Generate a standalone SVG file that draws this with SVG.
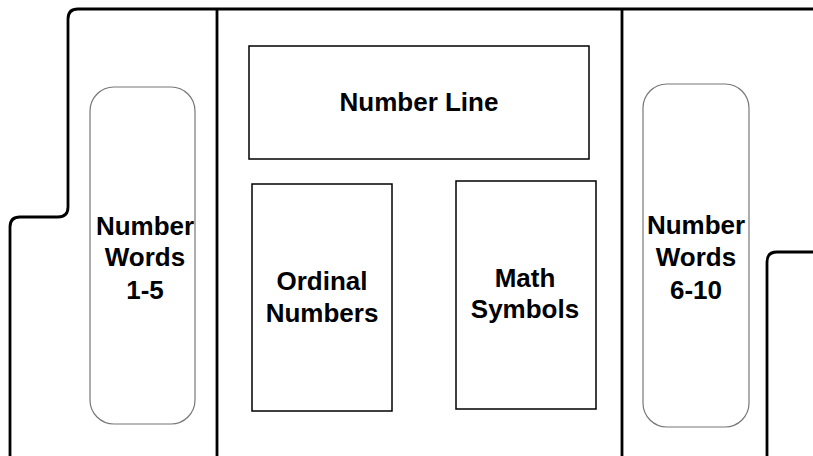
<svg xmlns="http://www.w3.org/2000/svg" width="813" height="456" viewBox="0 0 813 456">
<style>
.wall{fill:none;stroke:#000;stroke-width:2.8}
.box{fill:#fff;stroke:#000;stroke-width:1.5}
.pill{fill:#fff;stroke:#777;stroke-width:1.2}
.t{font-family:"Liberation Sans",Arial,sans-serif;font-weight:bold;font-size:26px;text-anchor:middle;fill:#000}
</style>
<g id="walls">
<path class="wall" d="M813,9 H78 Q68,9 68,19 V207 Q68,217 58,217 H20 Q10,217 10,227 V460"/>
<path class="wall" d="M217,9 V460"/>
<path class="wall" d="M622,9 V460"/>
<path class="wall" d="M813,252 H777 Q767,252 767,262 V460"/>
</g>
<g id="number-words-1-5">
<rect class="pill" x="90" y="87" width="105" height="337" rx="24"/>
<text class="t" x="145" y="235">Number</text>
<text class="t" x="145" y="266">Words</text>
<text class="t" x="145" y="299">1-5</text>
</g>
<g id="number-line">
<rect class="box" x="249" y="46" width="340" height="113"/>
<text class="t" x="419" y="111">Number Line</text>
</g>
<g id="ordinal-numbers">
<rect class="box" x="252" y="184" width="140" height="227"/>
<text class="t" x="322" y="290">Ordinal</text>
<text class="t" x="322" y="322">Numbers</text>
</g>
<g id="math-symbols">
<rect class="box" x="456" y="181" width="140" height="228"/>
<text class="t" x="525" y="287">Math</text>
<text class="t" x="525" y="318">Symbols</text>
</g>
<g id="number-words-6-10">
<rect class="pill" x="643" y="84" width="106" height="343" rx="24"/>
<text class="t" x="696" y="234">Number</text>
<text class="t" x="696" y="266">Words</text>
<text class="t" x="696" y="299">6-10</text>
</g>
<g id="connectors"/>
</svg>
